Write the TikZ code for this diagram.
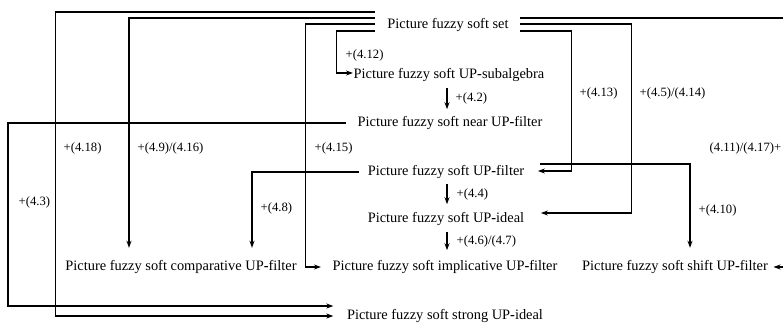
\documentclass[tikz,border=0pt]{standalone}
\usepackage{fontspec}
\setmainfont{Liberation Serif}
\usetikzlibrary{arrows.meta}

\newcommand{\hy}{{\bfseries -}}

\begin{document}
\begin{tikzpicture}[x=1pt, y=-1pt, line width=1.4pt, >={Stealth[length=7pt,width=5pt]},
  box/.style={inner sep=0pt, font=\fontsize{14.4}{16}\selectfont, text height=10pt, text depth=3pt},
  lab/.style={inner sep=0pt, anchor=west, font=\fontsize{12.7}{14}\selectfont}]

  \useasboundingbox (0,0) rectangle (783,322);
  \clip (0,0) rectangle (783,322);

  % --- 1. 概念のノード ---
  \node[box] (set)    at (448,25)  {Picture fuzzy soft set};
  \node[box] (sub)    at (449,75)  {Picture fuzzy soft UP\hy subalgebra};
  \node[box] (near)   at (450,123) {Picture fuzzy soft near UP\hy filter};
  \node[box] (filter) at (446,172) {Picture fuzzy soft UP\hy filter};
  \node[box] (ideal)  at (446,219) {Picture fuzzy soft UP\hy ideal};
  \node[box] (impl)   at (445,267) {Picture fuzzy soft implicative UP\hy filter};
  \node[box] (comp)   at (181,267) {Picture fuzzy soft comparative UP\hy filter};
  \node[box] (shift)  at (675,267) {Picture fuzzy soft shift UP\hy filter};
  \node[box] (strong) at (445,316) {Picture fuzzy soft strong UP\hy ideal};

  % --- 2. 中央の縦の矢印 ---
  \draw[->] (sub.south -| 447,0) ++(0,6) -- ++(0,21)
    node[lab, midway, xshift=8pt] (l42) {+(4.2)};
  \draw[->] (filter.south -| 447,0) ++(0,5) -- ++(0,20)
    node[lab, midway, xshift=9pt] (l44) {+(4.4)};
  \draw[->] (ideal.south -| 447,0) ++(0,6) -- ++(0,18)
    node[lab, midway, xshift=9pt] (l467) {+(4.6)/(4.7)};

  % --- 3. 集合から左へ ---
  \draw[->] ([xshift=-12pt,yshift=13pt]set.west) -- ++(-319,0) |- ([xshift=-13pt]strong.west);
  \draw[->] ([xshift=-12pt,yshift=7pt]set.west) -| ([xshift=-52pt,yshift=12pt]comp.north);
  \draw[->] ([xshift=-12pt,yshift=1pt]set.west) -- ++(-69,0) |- ([xshift=-11pt]impl.west);
  \draw[->] ([xshift=-12pt,yshift=-6pt]set.west) -- ++(-38,0) |- ([yshift=2pt]sub.west);

  % --- 4. 集合から右へ ---
  \draw[->] ([xshift=11pt,yshift=7pt]set.east) -- ++(290,0) |- ([xshift=5pt]shift.east);
  \draw[->] ([xshift=11pt,yshift=1pt]set.east) -- ++(111,0) |- ([xshift=16pt,yshift=6pt]ideal.east);
  \draw[->] ([xshift=11pt,yshift=-6pt]set.east) -- ++(51,0) |- ([xshift=13pt,yshift=1pt]filter.east);

  % --- 5. その他の線 ---
  \draw[->] ([xshift=-11pt]near.west) -- ++(-338,0) |- ([xshift=-13pt,yshift=10pt]strong.west);
  \draw[->] ([xshift=-8pt]filter.west) -| ([xshift=71pt,yshift=12pt]comp.north);
  \draw[->] ([xshift=15pt,yshift=8pt]filter.east) -| ([xshift=15pt,yshift=12pt]shift.north);

  % --- 6. 式番号 ---
  \node[lab] (l412) at (345,55)  {+(4.12)};
  \node[lab] (l418) at (63,148)  {+(4.18)};
  \node[lab] (l916) at (137,148) {+(4.9)/(4.16)};
  \node[lab] (l415) at (314,148) {+(4.15)};
  \node[lab] (l43)  at (18,202)  {+(4.3)};
  \node[lab] (l48)  at (260,208) {+(4.8)};
  \node[lab] (l413) at (579,93)  {+(4.13)};
  \node[lab] (l514) at (639,93)  {+(4.5)/(4.14)};
  \node[lab] (l410) at (698,210) {+(4.10)};
  \node[lab] (l411) at (709,148) {(4.11)/(4.17)+};

\end{tikzpicture}
\end{document}
